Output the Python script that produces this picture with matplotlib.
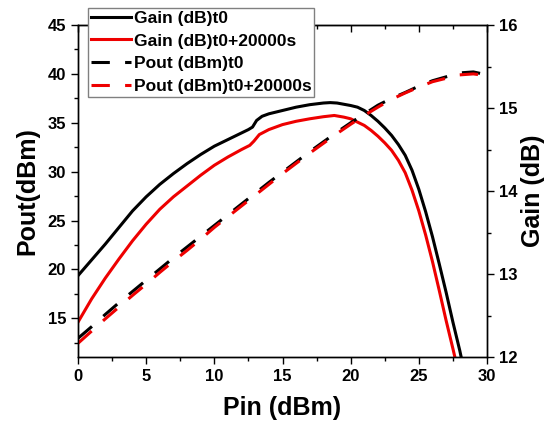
import matplotlib
matplotlib.use('Agg')
import matplotlib.pyplot as plt
from matplotlib.ticker import MultipleLocator

plt.rcParams['font.family'] = ['Liberation Sans', 'DejaVu Sans']
plt.rcParams['font.weight'] = 'bold'

# Gain curves (right axis)
pin_gain_t0 = [0, 1, 2, 3, 4, 5, 6, 7, 8, 9, 10, 11, 12, 12.5, 12.8, 13.1, 13.5,
               14, 15, 16, 17, 18, 18.5, 19, 20, 20.5, 21, 21.5, 22, 22.5, 23,
               23.5, 24, 24.5, 25, 25.5, 26, 26.5, 27, 27.5, 28, 28.5]
gain_t0 = [12.98, 13.17, 13.36, 13.56, 13.76, 13.93, 14.08, 14.21, 14.33, 14.44,
           14.54, 14.62, 14.70, 14.74, 14.77, 14.85, 14.90, 14.93, 14.97, 15.01,
           15.04, 15.06, 15.065, 15.06, 15.03, 15.01, 14.97, 14.91, 14.84, 14.76,
           14.67, 14.56, 14.43, 14.25, 14.02, 13.75, 13.45, 13.12, 12.78, 12.42,
           12.08, 11.70]

pin_gain_t1 = [0, 1, 2, 3, 4, 5, 6, 7, 8, 9, 10, 11, 12, 12.6, 12.9, 13.3, 14,
               15, 16, 17, 18, 18.8, 19.5, 20, 20.5, 21, 21.5, 22, 22.5, 23, 23.5,
               24, 24.5, 25, 25.5, 26, 26.5, 27, 27.5, 28]
gain_t1 = [12.42, 12.70, 12.95, 13.18, 13.40, 13.60, 13.78, 13.93, 14.06, 14.19,
           14.31, 14.41, 14.50, 14.55, 14.60, 14.68, 14.74, 14.80, 14.84, 14.87,
           14.895, 14.91, 14.89, 14.87, 14.83, 14.79, 14.73, 14.66, 14.58, 14.49,
           14.37, 14.22, 14.01, 13.76, 13.47, 13.15, 12.80, 12.44, 12.10, 11.75]

# Pout curves (left axis)
pin_pout = list(range(0, 31))
pout_t0 = [12.96, 14.15, 15.4, 16.6, 17.75, 18.9, 20.05, 21.2, 22.3, 23.4,
           24.5, 25.6, 26.7, 27.8, 28.9, 29.95, 31.0, 32.05, 33.05, 34.05,
           35.0, 35.9, 36.8, 37.5, 38.1, 38.75, 39.3, 39.7, 40.1, 40.2, 39.9]
pout_t1 = [12.45, 13.7, 14.95, 16.15, 17.35, 18.5, 19.7, 20.85, 21.95, 23.1,
           24.3, 25.4, 26.5, 27.6, 28.7, 29.8, 30.85, 31.9, 32.9, 33.9,
           34.85, 35.75, 36.6, 37.4, 38.05, 38.65, 39.2, 39.55, 39.9, 40.0, 39.8]

fig = plt.figure(figsize=(5.53, 4.21), dpi=100)
ax = fig.add_axes([78 / 553, 1 - 357 / 421, (487 - 78) / 553, (357 - 25) / 421])
ax2 = ax.twinx()

lw = 2.2
g0, = ax2.plot(pin_gain_t0, gain_t0, color='black', lw=lw, label='Gain (dB)t0')
g1, = ax2.plot(pin_gain_t1, gain_t1, color='#ee0000', lw=lw, label='Gain (dB)t0+20000s')
p0, = ax.plot(pin_pout, pout_t0, color='black', lw=lw, dashes=(6.0, 5.0),
              label='Pout (dBm)t0')
p1, = ax.plot(pin_pout, pout_t1, color='#ee0000', lw=lw, dashes=(6.0, 5.0),
              label='Pout (dBm)t0+20000s')

# Pout layer over the gain layer
ax.set_zorder(ax2.get_zorder() + 1)
ax.patch.set_visible(False)

ax.set_xlim(0, 30)
ax.set_ylim(11.05, 45)
ax2.set_ylim(12, 16)

ax.xaxis.set_major_locator(MultipleLocator(5))
ax.xaxis.set_minor_locator(MultipleLocator(2.5))
ax.yaxis.set_major_locator(MultipleLocator(5))
ax.yaxis.set_minor_locator(MultipleLocator(2.5))
ax2.yaxis.set_major_locator(MultipleLocator(1))
ax2.yaxis.set_minor_locator(MultipleLocator(0.5))

ax.tick_params(which='major', direction='out', length=5, width=1, labelsize=12)
ax.tick_params(which='minor', direction='out', length=3, width=1)
ax2.tick_params(which='major', direction='out', length=5, width=1, labelsize=12)
ax2.tick_params(which='minor', direction='out', length=3, width=1)

top = ax.secondary_xaxis('top')
top.xaxis.set_major_locator(MultipleLocator(5))
top.xaxis.set_minor_locator(MultipleLocator(2.5))
top.tick_params(which='major', direction='in', length=5, width=1, labeltop=False)
top.tick_params(which='minor', direction='in', length=3, width=1)

for a in (ax, ax2):
    for s in a.spines.values():
        s.set_linewidth(1.0)

ax.set_xlabel('Pin (dBm)', fontsize=18, fontweight='bold', labelpad=9)
ax.set_ylabel('Pout(dBm)', fontsize=18, fontweight='bold', labelpad=6)
ax2.set_ylabel('Gain (dB)', fontsize=18, fontweight='bold', labelpad=3)

leg = fig.legend([g0, g1, p0, p1],
                 [h.get_label() for h in (g0, g1, p0, p1)],
                 loc='upper left', bbox_to_anchor=(88 / 553, 1 - 8 / 421),
                 borderaxespad=0, borderpad=0.15, fontsize=12.5,
                 handlelength=2.3, handletextpad=0.2, labelspacing=0.44,
                 fancybox=False, framealpha=1, edgecolor='#808080')
leg.get_frame().set_linewidth(1.0)

fig.savefig('out.png', dpi=100)
